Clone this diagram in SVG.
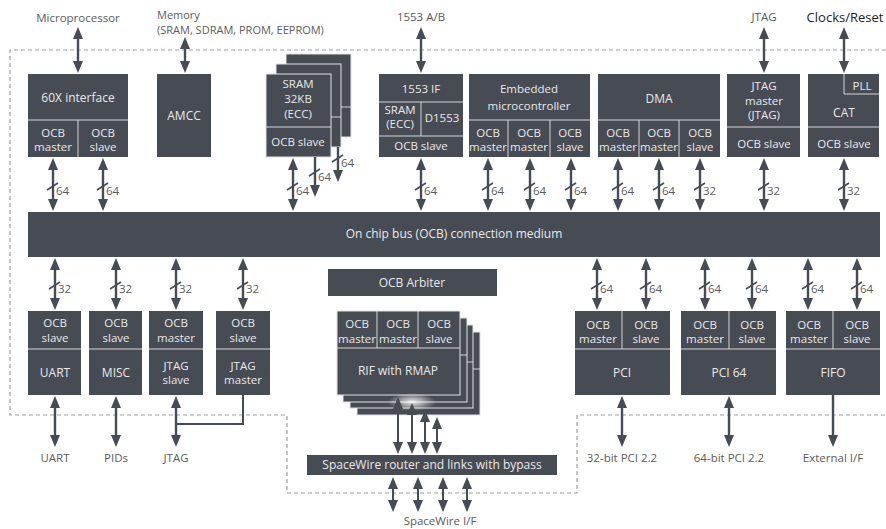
<svg xmlns="http://www.w3.org/2000/svg" width="886" height="529" viewBox="0 0 886 529">
<defs>
<style>
.b{fill:#474b54}
.s{fill:#474b54;stroke:#e2e2e2;stroke-width:1}
.d{stroke:#d6d6d6;stroke-width:1;fill:none}
.t{font-family:"Open Sans","Noto Sans",sans-serif;font-size:11.5px;fill:#e9e9e9;text-anchor:middle}
.tb{font-family:"Open Sans","Noto Sans",sans-serif;font-size:12px;fill:#e9e9e9;text-anchor:middle}
.o{font-family:"Open Sans","Noto Sans",sans-serif;font-size:11.5px;fill:#5c5c5c;text-anchor:middle}
.n{font-family:"Open Sans","Noto Sans",sans-serif;font-size:11.5px;fill:#5c5c5c}
.m{font-family:"Open Sans","Noto Sans",sans-serif;font-size:11px;fill:#5c5c5c}
.w{stroke:#474b54;stroke-width:2.4;fill:none}
.ww{stroke:#474b54;stroke-width:2;fill:none}
.ab{marker-start:url(#a);marker-end:url(#a)}
.ae{marker-end:url(#a)}
.dd{stroke:#a0a0a0;stroke-width:1.2;stroke-dasharray:4 3;fill:none}
.sl{stroke:#474b54;stroke-width:1.6}
</style>
<marker id="a" viewBox="0 0 12 10" markerWidth="12" markerHeight="10" refX="2" refY="5" orient="auto-start-reverse" markerUnits="userSpaceOnUse">
<path d="M0,0 L12,5 L0,10 z" fill="#474b54"/>
</marker>
<radialGradient id="g" cx="0.5" cy="0.5" r="0.5">
<stop offset="0" stop-color="#ffffff" stop-opacity="0.9"/>
<stop offset="1" stop-color="#ffffff" stop-opacity="0"/>
</radialGradient>
</defs>
<rect width="886" height="529" fill="#ffffff"/>

<g id="border">
<path class="dd" d="M886,50 H10 V415 H287 V493 H577 V415 H886"/>
</g>

<g id="labels">
<text class="o" x="78" y="22">Microprocessor</text>
<text class="m" x="157" y="19">Memory</text>
<text class="m" x="157" y="34">(SRAM, SDRAM, PROM, EEPROM)</text>
<text class="o" x="421" y="21">1553 A/B</text>
<text class="o" x="764" y="21">JTAG</text>
<text x="845" y="22" style="font-family:'Open Sans','Noto Sans',sans-serif;font-size:13px;fill:#222;text-anchor:middle">Clocks/Reset</text>
<text class="o" x="55" y="462">UART</text>
<text class="o" x="116" y="462">PIDs</text>
<text class="o" x="176" y="462">JTAG</text>
<text class="o" x="622" y="462">32-bit PCI 2.2</text>
<text class="o" x="729" y="462">64-bit PCI 2.2</text>
<text class="o" x="833" y="462">External I/F</text>
<text class="o" x="440" y="525">SpaceWire I/F</text>
</g>

<g id="n60x">
<rect class="b" x="28" y="74" width="100" height="83"/>
<path class="d" d="M28,120 H128 M78,120 V157"/>
<text class="tb" x="78" y="102">60X interface</text>
<text class="t" x="53" y="137">OCB</text><text class="t" x="53" y="151">master</text>
<text class="t" x="103" y="137">OCB</text><text class="t" x="103" y="151">slave</text>
</g>

<g id="amcc">
<rect class="b" x="157" y="74" width="54" height="83"/>
<text class="tb" x="184" y="120">AMCC</text>
</g>

<g id="sram">
<rect class="s" x="286" y="54" width="65" height="83"/>
<path class="d" d="M286,107 H351"/>
<rect class="s" x="276" y="64" width="65" height="83"/>
<path class="d" d="M276,117 H341"/>
<rect class="s" x="266" y="74" width="65" height="83"/>
<path class="d" d="M266,127 H331"/>
<text class="t" x="298" y="88">SRAM</text>
<text class="t" x="298" y="103">32KB</text>
<text class="t" x="298" y="118">(ECC)</text>
<text class="t" x="298" y="146">OCB slave</text>
</g>

<g id="n1553">
<rect class="b" x="379" y="74" width="84" height="83"/>
<path class="d" d="M379,102 H463 M379,136 H463 M421,102 V136"/>
<text class="t" x="421" y="93">1553 IF</text>
<text class="t" x="400" y="114">SRAM</text>
<text class="t" x="400" y="128">(ECC)</text>
<text class="t" x="442" y="122">D1553</text>
<text class="t" x="421" y="150">OCB slave</text>
</g>

<g id="emb">
<rect class="b" x="469" y="74" width="121" height="83"/>
<path class="d" d="M469,120 H590 M508,120 V157 M550,120 V157"/>
<text class="t" x="529" y="93">Embedded</text>
<text class="t" x="529" y="110">microcontroller</text>
<text class="t" x="488" y="137">OCB</text><text class="t" x="488" y="151">master</text>
<text class="t" x="529" y="137">OCB</text><text class="t" x="529" y="151">master</text>
<text class="t" x="570" y="137">OCB</text><text class="t" x="570" y="151">slave</text>
</g>

<g id="dma">
<rect class="b" x="598" y="74" width="122" height="83"/>
<path class="d" d="M598,120 H720 M639,120 V157 M679,120 V157"/>
<text class="tb" x="659" y="103">DMA</text>
<text class="t" x="618" y="137">OCB</text><text class="t" x="618" y="151">master</text>
<text class="t" x="659" y="137">OCB</text><text class="t" x="659" y="151">master</text>
<text class="t" x="700" y="137">OCB</text><text class="t" x="700" y="151">slave</text>
</g>

<g id="jtagm">
<rect class="b" x="727" y="74" width="73" height="83"/>
<path class="d" d="M727,127 H800"/>
<text class="t" x="764" y="90">JTAG</text>
<text class="t" x="764" y="105">master</text>
<text class="t" x="764" y="119">(JTAG)</text>
<text class="t" x="764" y="148">OCB slave</text>
</g>

<g id="cat">
<rect class="b" x="808" y="74" width="71" height="83"/>
<path class="d" d="M808,127 H879 M844,74 V94 H879"/>
<text class="t" x="862" y="90">PLL</text>
<text class="tb" x="844" y="117">CAT</text>
<text class="t" x="844" y="148">OCB slave</text>
</g>

<g id="bus">
<rect class="b" x="28" y="212" width="852" height="45"/>
<text class="tb" x="454" y="238">On chip bus (OCB) connection medium</text>
</g>

<g id="uart">
<rect class="b" x="28" y="311" width="53" height="84"/>
<path class="d" d="M28,349 H81"/>
<text class="t" x="55" y="327">OCB</text><text class="t" x="55" y="342">slave</text>
<text class="tb" x="55" y="377">UART</text>
</g>
<g id="misc">
<rect class="b" x="89" y="311" width="53" height="84"/>
<path class="d" d="M89,349 H142"/>
<text class="t" x="116" y="327">OCB</text><text class="t" x="116" y="342">slave</text>
<text class="tb" x="116" y="377">MISC</text>
</g>
<g id="jtags">
<rect class="b" x="149" y="311" width="54" height="84"/>
<path class="d" d="M149,349 H203"/>
<text class="t" x="176" y="327">OCB</text><text class="t" x="176" y="342">master</text>
<text class="t" x="176" y="370">JTAG</text><text class="t" x="176" y="384">slave</text>
</g>
<g id="jtagmb">
<rect class="b" x="216" y="311" width="54" height="84"/>
<path class="d" d="M216,349 H270"/>
<text class="t" x="243" y="327">OCB</text><text class="t" x="243" y="342">slave</text>
<text class="t" x="243" y="370">JTAG</text><text class="t" x="243" y="384">master</text>
</g>

<g id="arbiter">
<rect class="b" x="328" y="269" width="169" height="27"/>
<text class="tb" x="412" y="287">OCB Arbiter</text>
</g>

<g id="rif">
<rect class="s" x="357" y="332" width="123" height="83"/>
<path class="d" d="M357,369 H480"/>
<rect class="s" x="350" y="325" width="123" height="83"/>
<path class="d" d="M350,362 H473"/>
<rect class="s" x="343" y="318" width="124" height="84"/>
<path class="d" d="M343,355 H467"/>
<rect class="s" x="337" y="311" width="123" height="84"/>
<path class="d" d="M337,348 H460 M377,311 V348 M418,311 V348"/>
<text class="t" x="357" y="328">OCB</text><text class="t" x="357" y="343">master</text>
<text class="t" x="398" y="328">OCB</text><text class="t" x="398" y="343">master</text>
<text class="t" x="439" y="328">OCB</text><text class="t" x="439" y="343">slave</text>
<text class="tb" x="398" y="375">RIF with RMAP</text>
<ellipse cx="412" cy="402" rx="24" ry="9" fill="url(#g)"/>
</g>

<g id="spw">
<rect class="b" x="307" y="455" width="250" height="20"/>
<text class="tb" x="432" y="469">SpaceWire router and links with bypass</text>
</g>

<g id="pci">
<rect class="b" x="575" y="311" width="95" height="84"/>
<path class="d" d="M575,349 H670 M622,311 V349"/>
<text class="t" x="598" y="329">OCB</text><text class="t" x="598" y="343">master</text>
<text class="t" x="646" y="329">OCB</text><text class="t" x="646" y="343">slave</text>
<text class="tb" x="622" y="377">PCI</text>
</g>
<g id="pci64">
<rect class="b" x="681" y="311" width="95" height="84"/>
<path class="d" d="M681,349 H776 M729,311 V349"/>
<text class="t" x="705" y="329">OCB</text><text class="t" x="705" y="343">master</text>
<text class="t" x="752" y="329">OCB</text><text class="t" x="752" y="343">slave</text>
<text class="tb" x="729" y="377">PCI 64</text>
</g>
<g id="fifo">
<rect class="b" x="786" y="311" width="94" height="84"/>
<path class="d" d="M786,349 H880 M833,311 V349"/>
<text class="t" x="809" y="329">OCB</text><text class="t" x="809" y="343">master</text>
<text class="t" x="857" y="329">OCB</text><text class="t" x="857" y="343">slave</text>
<text class="tb" x="833" y="377">FIFO</text>
</g>

<g id="connectors">
<line class="w ab" x1="78" y1="37" x2="78" y2="63"/>
<line class="w ab" x1="185" y1="47" x2="185" y2="63"/>
<line class="w ab" x1="421" y1="37" x2="421" y2="63"/>
<line class="w ab" x1="764" y1="37" x2="764" y2="63"/>
<line class="w ab" x1="844" y1="37" x2="844" y2="63"/>

<line class="w ab" x1="53" y1="168" x2="53" y2="201"/>
<line class="w ab" x1="103" y1="168" x2="103" y2="201"/>
<line class="w ab" x1="293" y1="168" x2="293" y2="201"/>
<line class="w ae" x1="315" y1="157" x2="315" y2="187"/>
<line class="w ae" x1="338" y1="147" x2="338" y2="172"/>
<line class="w ab" x1="421" y1="168" x2="421" y2="201"/>
<line class="w ab" x1="488" y1="168" x2="488" y2="201"/>
<line class="w ab" x1="530" y1="168" x2="530" y2="201"/>
<line class="w ab" x1="571" y1="168" x2="571" y2="201"/>
<line class="w ab" x1="618" y1="168" x2="618" y2="201"/>
<line class="w ab" x1="659" y1="168" x2="659" y2="201"/>
<line class="w ab" x1="700" y1="168" x2="700" y2="201"/>
<line class="w ab" x1="764" y1="168" x2="764" y2="201"/>
<line class="w ab" x1="844" y1="168" x2="844" y2="201"/>

<line class="w ab" x1="55" y1="268" x2="55" y2="300"/>
<line class="w ab" x1="116" y1="268" x2="116" y2="300"/>
<line class="w ab" x1="176" y1="268" x2="176" y2="300"/>
<line class="w ab" x1="243" y1="268" x2="243" y2="300"/>
<line class="w ab" x1="597" y1="268" x2="597" y2="300"/>
<line class="w ab" x1="646" y1="268" x2="646" y2="300"/>
<line class="w ab" x1="705" y1="268" x2="705" y2="300"/>
<line class="w ab" x1="752" y1="268" x2="752" y2="300"/>
<line class="w ab" x1="808" y1="268" x2="808" y2="300"/>
<line class="w ab" x1="857" y1="268" x2="857" y2="300"/>

<line class="w ab" x1="55" y1="406" x2="55" y2="437"/>
<line class="w ab" x1="116" y1="406" x2="116" y2="437"/>
<line class="w ab" x1="176" y1="406" x2="176" y2="437"/>
<line class="w ab" x1="622" y1="406" x2="622" y2="437"/>
<line class="w ab" x1="729" y1="406" x2="729" y2="437"/>
<line class="w ae" x1="833" y1="395" x2="833" y2="437"/>
<path class="ww" d="M243,395 V424 H176"/>

<line class="ww ab" x1="398" y1="407" x2="398" y2="444"/>
<line class="ww ab" x1="412" y1="413" x2="412" y2="444"/>
<line class="ww ab" x1="425" y1="420" x2="425" y2="444"/>
<line class="ww ab" x1="437" y1="427" x2="437" y2="444"/>

<line class="ww ab" x1="393" y1="487" x2="393" y2="502"/>
<line class="ww ab" x1="418" y1="487" x2="418" y2="502"/>
<line class="ww ab" x1="443" y1="487" x2="443" y2="502"/>
<line class="ww ab" x1="467" y1="487" x2="467" y2="502"/>

<path class="sl" d="M47,190 L58,183 M97,190 L108,183 M287,190 L298,183 M309,176 L320,169 M332,162 L343,155 M415,190 L426,183 M482,190 L493,183 M524,190 L535,183 M565,190 L576,183 M612,190 L623,183 M653,190 L664,183 M694,190 L705,183 M758,190 L769,183 M838,190 L849,183"/>
<path class="sl" d="M49,289 L60,282 M110,289 L121,282 M170,289 L181,282 M237,289 L248,282 M591,289 L602,282 M640,289 L651,282 M699,289 L710,282 M746,289 L757,282 M802,289 L813,282 M851,289 L862,282"/>
<text class="n" x="56" y="195">64</text>
<text class="n" x="106" y="195">64</text>
<text class="n" x="296" y="195">64</text>
<text class="n" x="318" y="181">64</text>
<text class="n" x="341" y="167">64</text>
<text class="n" x="424" y="195">64</text>
<text class="n" x="491" y="195">64</text>
<text class="n" x="533" y="195">64</text>
<text class="n" x="574" y="195">64</text>
<text class="n" x="621" y="195">64</text>
<text class="n" x="662" y="195">64</text>
<text class="n" x="703" y="195">32</text>
<text class="n" x="767" y="195">32</text>
<text class="n" x="847" y="195">32</text>
<text class="n" x="58" y="293">32</text>
<text class="n" x="119" y="293">32</text>
<text class="n" x="179" y="293">32</text>
<text class="n" x="246" y="293">32</text>
<text class="n" x="600" y="293">64</text>
<text class="n" x="649" y="293">64</text>
<text class="n" x="708" y="293">64</text>
<text class="n" x="755" y="293">64</text>
<text class="n" x="811" y="293">64</text>
<text class="n" x="860" y="293">64</text>
</g>
</svg>
